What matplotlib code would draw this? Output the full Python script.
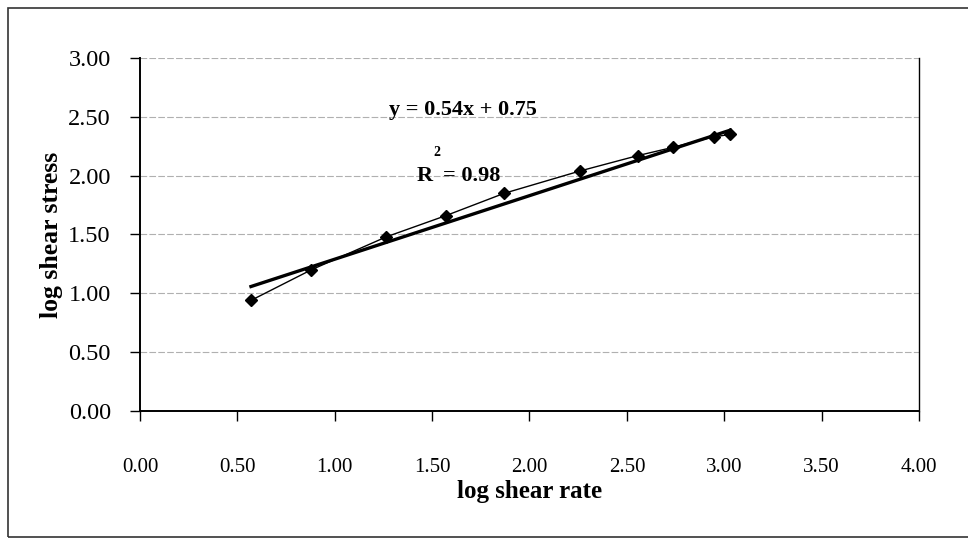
import numpy as np
import matplotlib
matplotlib.use('Agg')
import matplotlib.pyplot as plt
from matplotlib.patches import Rectangle

# ── Data ──
log_rate = [0.57, 0.88, 1.265, 1.57, 1.87, 2.26, 2.555, 2.735, 2.945, 3.03]
log_stress = [0.94, 1.20, 1.48, 1.66, 1.85, 2.04, 2.17, 2.24, 2.33, 2.35]
SLOPE = 0.54
INTERCEPT = 0.75
R2 = 0.98
x_ticks = [0.0, 0.5, 1.0, 1.5, 2.0, 2.5, 3.0, 3.5, 4.0]
y_ticks = [0.0, 0.5, 1.0, 1.5, 2.0, 2.5, 3.0]

plt.rcParams['font.family'] = ['Liberation Serif', 'DejaVu Serif']

fig = plt.figure(figsize=(9.68, 5.39), dpi=100)
ax = fig.add_axes([0.1446, 0.2375, 0.8048, 0.6549])

# outer chart frame
fig.patches.append(Rectangle((8 / 968, 2 / 539), 1.0, 1 - 10 / 539, transform=fig.transFigure,
                             fill=False, edgecolor='#333333', lw=1.2))

for y in y_ticks[1:]:
    ax.axhline(y, color='#b0b0b0', lw=0.8, ls=(0, (6, 2)), zorder=0)

ax.plot(log_rate, log_stress, '-', color='black', lw=1.0, marker='D', ms=6.5,
        markerfacecolor='black', markeredgecolor='black', zorder=3)

xt = np.array([log_rate[0], log_rate[-1]])
ax.plot(xt, SLOPE * xt + INTERCEPT, '-', color='black', lw=2.4, zorder=2)

ax.set_xlim(0, 4)
ax.set_ylim(0, 3)
ax.set_xticks(x_ticks)
ax.set_yticks(y_ticks)
ax.set_xticklabels([f'{v:.2f}' for v in x_ticks], fontsize=15)
ax.set_yticklabels([f'{v:.2f}' for v in y_ticks], fontsize=17.5)
ax.tick_params(axis='x', direction='out', length=7, width=1, pad=27)
ax.tick_params(axis='y', direction='out', length=7, width=1, pad=14)

ax.spines['top'].set_visible(False)
ax.spines['left'].set_linewidth(1.4)
ax.spines['bottom'].set_linewidth(1.4)
ax.spines['right'].set_linewidth(1.0)

ax.set_xlabel('log shear rate', fontsize=18, fontweight='bold', labelpad=2)
ax.set_ylabel('log shear stress', fontsize=18.5, fontweight='bold', labelpad=4)

ax.text(1.656, 2.557, f'y = {SLOPE:.2f}x + {INTERCEPT:.2f}', fontsize=16, fontweight='bold',
        ha='center', va='center')
ax.text(1.42, 2.0, 'R', fontsize=16, fontweight='bold', ha='left', va='center')
ax.text(1.505, 2.2, '2', fontsize=10, fontweight='bold', ha='left', va='center')
ax.text(1.555, 2.0, f'= {R2:.2f}', fontsize=16, fontweight='bold', ha='left', va='center')

plt.savefig('out.png', dpi=100)
plt.close()
